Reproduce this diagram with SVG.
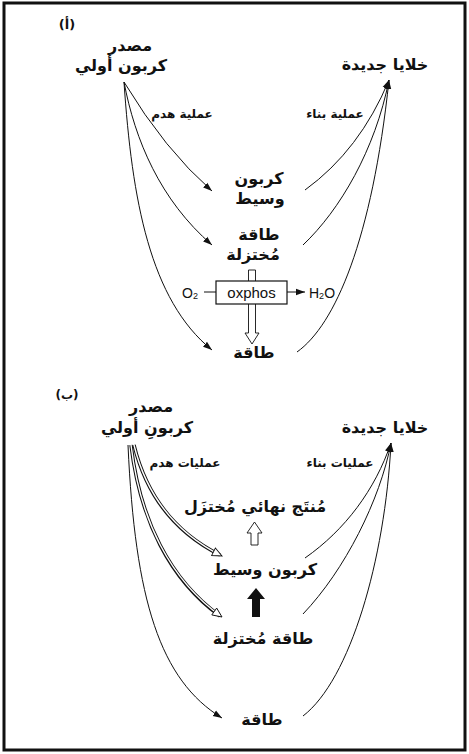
<svg xmlns="http://www.w3.org/2000/svg" width="469" height="754" viewBox="0 0 469 754">
<style>
.ar{font-family:"DejaVu Sans","Noto Sans",sans-serif;font-weight:bold;fill:#111;text-anchor:middle}
.big{font-size:16px}
.sm{font-size:12px}
.lat{font-family:"Liberation Sans",Arial,sans-serif;fill:#111;text-anchor:middle}
.ln{fill:none;stroke:#111;stroke-width:1}
.dbl{fill:none;stroke:#111;stroke-width:3.4}
.dblw{fill:none;stroke:#fff;stroke-width:1.4}
</style>
<defs>
<marker id="ah" markerUnits="userSpaceOnUse" markerWidth="10" markerHeight="8" refX="9" refY="4" orient="auto">
<path d="M0,0.8 L9,4 L0,7.2 Z" fill="#111"/>
</marker>
<marker id="oh" markerUnits="userSpaceOnUse" markerWidth="12" markerHeight="10" refX="10.5" refY="5" orient="auto">
<path d="M1,0.8 L10.5,5 L1,9.2 Z" fill="#fff" stroke="#111" stroke-width="0.9"/>
</marker>
</defs>
<rect x="0" y="0" width="469" height="754" fill="#fff"/>
<rect x="4" y="3" width="461" height="747" fill="none" stroke="#111" stroke-width="3"/>

<g id="connectors">
<path class="ln" d="M124,82 Q165,150 212,191" marker-end="url(#ah)"/>
<path class="ln" d="M124,82 C135,140 160,200 212,245" marker-end="url(#ah)"/>
<path class="ln" d="M124,82 C132,200 150,300 212,350" marker-end="url(#ah)"/>
<path class="ln" d="M305,190 Q360,150 389,80" marker-end="url(#ah)"/>
<path class="ln" d="M303,245 C340,210 375,150 389,80" marker-end="url(#ah)"/>
<path class="ln" d="M297,352 C335,325 372,240 389,80" marker-end="url(#ah)"/>
<path class="ln" d="M204,292 H216"/>
<path class="ln" d="M287,292 H305" marker-end="url(#ah)"/>
<polygon points="248.5,270 255.5,270 255.5,333 259,333 252,344 245,333 248.5,333" fill="#fff" stroke="#111" stroke-width="0.9"/>

<path class="ln" d="M128,445 C135,600 160,680 222,718" marker-end="url(#ah)"/>
<path class="dbl" d="M131,445 C140,520 170,580 220,616"/>
<path class="dblw" d="M131,445 C140,520 170,580 222,617" marker-end="url(#oh)"/>
<path class="dbl" d="M134,445 C145,490 170,530 220,555"/>
<path class="dblw" d="M134,445 C145,490 170,530 222,556" marker-end="url(#oh)"/>
<path class="ln" d="M305,558 C345,530 375,490 391,443" marker-end="url(#ah)"/>
<path class="ln" d="M303,614 C345,570 380,500 391,443" marker-end="url(#ah)"/>
<path class="ln" d="M303,716 C350,680 385,560 391,443" marker-end="url(#ah)"/>
<polygon points="254.5,522 262,533 258,533 258,545 251,545 251,533 247,533" fill="#fff" stroke="#111" stroke-width="0.9"/>
<polygon points="256,588 265,599 260,599 260,617 252,617 252,599 247,599" fill="#111"/>
</g>

<g id="label-a"><text class="ar" x="67" y="29" font-size="13">(أ)</text></g>
<g id="source-a">
<text class="ar big" x="130" y="51">مصدر</text>
<text class="ar big" x="121" y="71">كربون أولي</text>
</g>
<g id="cells-a"><text class="ar big" x="385" y="70">خلايا جديدة</text></g>
<g id="catab-a"><text class="ar sm" x="182" y="118">عملية هدم</text></g>
<g id="anab-a"><text class="ar sm" x="335" y="118">عملية بناء</text></g>
<g id="inter-a">
<text class="ar big" x="259" y="184">كربون</text>
<text class="ar big" x="260" y="204">وسيط</text>
</g>
<g id="redu-a">
<text class="ar big" x="259" y="240">طاقة</text>
<text class="ar big" x="253" y="260">مُختزلة</text>
</g>
<g id="oxphos">
<rect x="216" y="281" width="71" height="23" fill="#fff" stroke="#111" stroke-width="1.2"/>
<text class="lat" x="251.5" y="298" font-size="15">oxphos</text>
</g>
<g id="o2"><text class="lat" x="190" y="298" font-size="14">O<tspan font-size="9" dy="1">2</tspan></text></g>
<g id="h2o"><text class="lat" x="322" y="298" font-size="14">H<tspan font-size="9" dy="1">2</tspan><tspan dy="-1">O</tspan></text></g>
<g id="energy-a"><text class="ar big" x="254" y="358">طاقة</text></g>

<g id="label-b"><text class="ar" x="67" y="399" font-size="12">(ب)</text></g>
<g id="source-b">
<text class="ar big" x="151" y="412">مصدر</text>
<text class="ar big" x="147" y="433">كربونِ أولي</text>
</g>
<g id="cells-b"><text class="ar big" x="385" y="433">خلايا جديدة</text></g>
<g id="catab-b"><text class="ar sm" x="185" y="467">عمليات هدم</text></g>
<g id="anab-b"><text class="ar sm" x="340" y="467">عمليات بناء</text></g>
<g id="product-b"><text class="ar big" x="255" y="512">مُنتَج نهائي مُختزَل</text></g>
<g id="inter-b"><text class="ar big" x="265" y="575">كربون وسيط</text></g>
<g id="redu-b"><text class="ar big" x="263" y="644">طاقة مُختزلة</text></g>
<g id="energy-b"><text class="ar big" x="262" y="725">طاقة</text></g>
</svg>
